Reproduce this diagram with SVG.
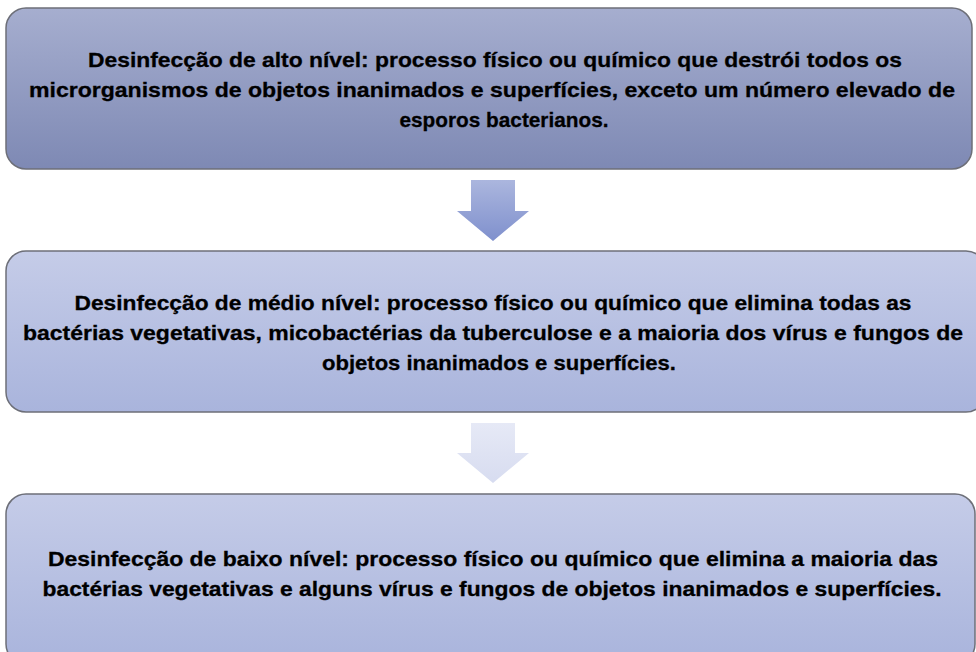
<svg xmlns="http://www.w3.org/2000/svg" width="976" height="652" viewBox="0 0 976 652">
  <defs>
    <linearGradient id="g1" x1="0" y1="0" x2="0" y2="1">
      <stop offset="0" stop-color="#a6aecf"/>
      <stop offset="1" stop-color="#7e89b4"/>
    </linearGradient>
    <linearGradient id="g2" x1="0" y1="0" x2="0" y2="1">
      <stop offset="0" stop-color="#c5cce8"/>
      <stop offset="1" stop-color="#a9b4dc"/>
    </linearGradient>
    <linearGradient id="ga1" x1="0" y1="0" x2="0" y2="1">
      <stop offset="0" stop-color="#abb6de"/>
      <stop offset="1" stop-color="#7f90cd"/>
    </linearGradient>
    <linearGradient id="ga2" x1="0" y1="0" x2="0" y2="1">
      <stop offset="0" stop-color="#e6e9f6"/>
      <stop offset="1" stop-color="#d7dcf0"/>
    </linearGradient>
  </defs>
  <style>
    .box { stroke: #6d6f78; stroke-width: 1.5; }
    .t { font-family: "Liberation Sans", Arial, sans-serif; font-weight: bold; font-size: 21px; fill: #000; stroke: #000; stroke-width: 0.3; text-anchor: middle; }
  </style>
  <rect width="976" height="652" fill="#ffffff"/>
  <g id="connectors">
    <polygon points="471,180 515,180 515,211 529,211 493,241 457,211 471,211" fill="url(#ga1)"/>
    <polygon points="471,423 515,423 515,453 529,453 493,483 457,453 471,453" fill="url(#ga2)"/>
  </g>
  <g id="node-alto">
    <rect class="box" x="6" y="8" width="966" height="161" rx="20" fill="url(#g1)"/>
    <text class="t" x="495" y="67" textLength="814" lengthAdjust="spacingAndGlyphs">Desinfecção de alto nível: processo físico ou químico que destrói todos os</text>
    <text class="t" x="492" y="97" textLength="926" lengthAdjust="spacingAndGlyphs">microrganismos de objetos inanimados e superfícies, exceto um número elevado de</text>
    <text class="t" x="504" y="127" textLength="209" lengthAdjust="spacingAndGlyphs">esporos bacterianos.</text>
  </g>
  <g id="node-medio">
    <rect class="box" x="6" y="251" width="980" height="161" rx="20" fill="url(#g2)"/>
    <text class="t" x="493" y="310" textLength="837" lengthAdjust="spacingAndGlyphs">Desinfecção de médio nível: processo físico ou químico que elimina todas as</text>
    <text class="t" x="493" y="340" textLength="940" lengthAdjust="spacingAndGlyphs">bactérias vegetativas, micobactérias da tuberculose e a maioria dos vírus e fungos de</text>
    <text class="t" x="499" y="370" textLength="354" lengthAdjust="spacingAndGlyphs">objetos inanimados e superfícies.</text>
  </g>
  <g id="node-baixo">
    <rect class="box" x="6" y="494" width="969" height="170" rx="20" fill="url(#g2)"/>
    <text class="t" x="493" y="566" textLength="890" lengthAdjust="spacingAndGlyphs">Desinfecção de baixo nível: processo físico ou químico que elimina a maioria das</text>
    <text class="t" x="492" y="596" textLength="899" lengthAdjust="spacingAndGlyphs">bactérias vegetativas e alguns vírus e fungos de objetos inanimados e superfícies.</text>
  </g>
</svg>
